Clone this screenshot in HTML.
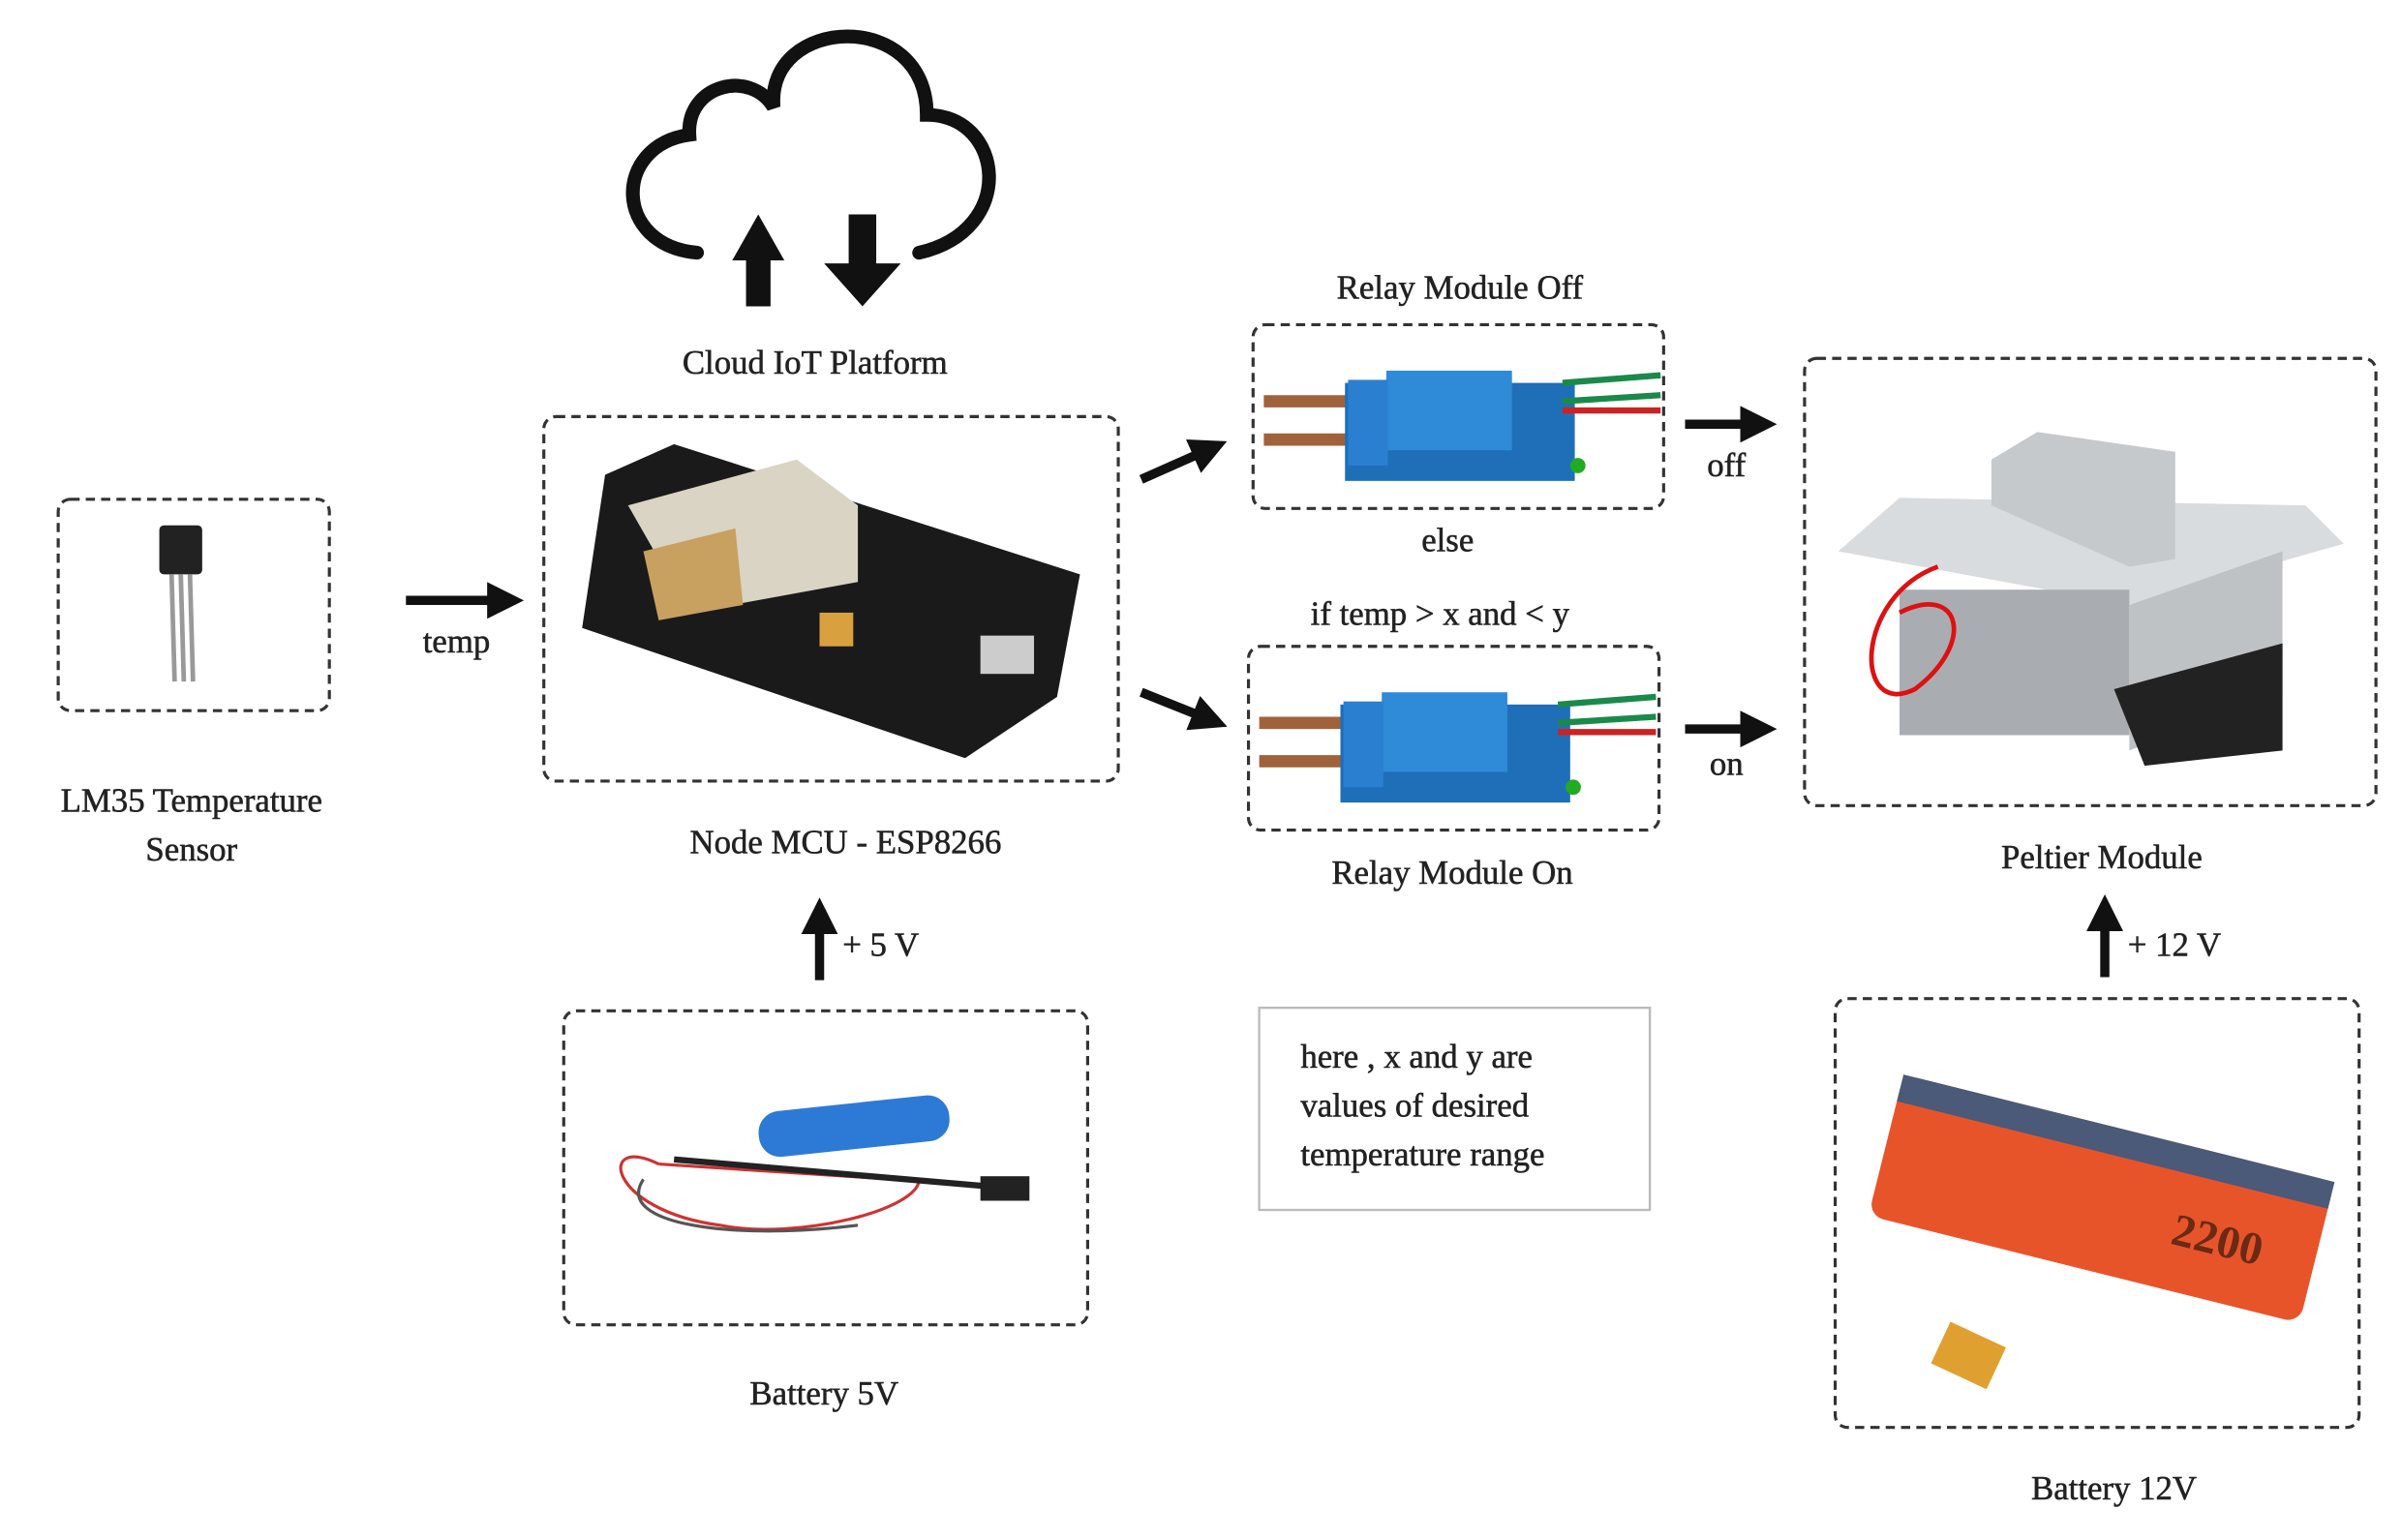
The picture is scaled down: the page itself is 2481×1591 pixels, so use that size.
<!DOCTYPE html>
<html><head><meta charset="utf-8"><style>
html,body{margin:0;padding:0;background:#fff;width:2481px;height:1591px;overflow:hidden}
svg{display:block}
text{font-family:"Liberation Serif",serif;fill:#222;stroke:#222;stroke-width:0.35}
</style></head><body>
<svg width="2481" height="1591" viewBox="0 0 1568 1005.5" xmlns="http://www.w3.org/2000/svg">
<defs>
<marker id="ah" markerWidth="4" markerHeight="4" refX="2" refY="2" orient="auto" markerUnits="strokeWidth"><path d="M0,0 L4,2 L0,4 z" fill="#111"/></marker>
</defs>
<!-- cloud -->
<path d="M455,165 C400,160 400,95 450,88 C448,55 490,45 505,70 C500,10 605,5 605,75 C655,75 665,150 600,165" fill="none" stroke="#111" stroke-width="9" stroke-linecap="round"/>
<polygon points="478,170 495,140 512,170 503,170 503,200 487,200 487,170" fill="#111"/>
<polygon points="554,140 572,140 572,172 588,172 563,200 538,172 554,172" fill="#111"/>
<text x="532" y="244" font-size="22" text-anchor="middle">Cloud IoT Platform</text>

<g fill="none" stroke="#333" stroke-width="2" stroke-dasharray="6,4">
<rect x="38" y="326" width="177" height="138" rx="8"/>
<rect x="355" y="272" width="375" height="238" rx="8"/>
<rect x="368" y="660" width="342" height="205" rx="8"/>
<rect x="818" y="212" width="268" height="120" rx="8"/>
<rect x="815" y="422" width="268" height="120" rx="8"/>
<rect x="1178" y="234" width="373" height="292" rx="8"/>
<rect x="1198" y="652" width="342" height="280" rx="8"/>
</g>
<rect x="822" y="658" width="255" height="132" fill="none" stroke="#bbb" stroke-width="1.5"/>

<!-- LM35 -->
<rect x="104" y="343" width="28" height="32" rx="3" fill="#222"/>
<g stroke="#999" stroke-width="3"><line x1="112" y1="375" x2="114" y2="445"/><line x1="118" y1="375" x2="120" y2="445"/><line x1="124" y1="375" x2="126" y2="445"/></g>
<text x="125" y="530" font-size="22" text-anchor="middle">LM35 Temperature</text>
<text x="125" y="562" font-size="22" text-anchor="middle">Sensor</text>

<!-- arrows -->
<g stroke="#111" stroke-width="6" fill="none" marker-end="url(#ah)">
<line x1="265" y1="392" x2="330" y2="392"/>
<line x1="745" y1="313" x2="790" y2="293"/>
<line x1="745" y1="452" x2="790" y2="470"/>
<line x1="1100" y1="277" x2="1148" y2="277"/>
<line x1="1100" y1="476" x2="1148" y2="476"/>
<line x1="535" y1="640" x2="535" y2="598"/>
<line x1="1374" y1="638" x2="1374" y2="596"/>
</g>
<text x="298" y="426" font-size="22" text-anchor="middle">temp</text>
<text x="550" y="624" font-size="22">+ 5 V</text>
<text x="1389" y="624" font-size="22">+ 12 V</text>
<text x="1127" y="311" font-size="22" text-anchor="middle">off</text>
<text x="1127" y="506" font-size="22" text-anchor="middle">on</text>

<!-- NodeMCU -->
<polygon points="395,310 440,290 705,375 690,455 630,495 380,410" fill="#1a1a1a"/>
<polygon points="410,330 520,300 560,330 560,380 450,400" fill="#d9d4c4"/>
<polygon points="420,360 480,345 485,395 430,405" fill="#c8a060"/>
<rect x="640" y="415" width="35" height="25" fill="#ccc"/>
<rect x="535" y="400" width="22" height="22" fill="#d9a040"/>
<text x="552" y="557" font-size="22" text-anchor="middle">Node MCU - ESP8266</text>

<!-- battery 5V -->
<g transform="rotate(-6 560 735)"><rect x="495" y="720" width="125" height="30" rx="14" fill="#2d7ad6"/></g>
<path d="M430,760 C390,740 395,790 470,800 C520,810 600,790 600,770 M430,760 L660,775" fill="none" stroke="#c33" stroke-width="2"/>
<path d="M420,770 C400,800 480,810 560,800" fill="none" stroke="#555" stroke-width="2"/>
<path d="M440,757 L650,775" stroke="#222" stroke-width="4"/>
<rect x="640" y="768" width="32" height="16" fill="#222"/>
<text x="538" y="917" font-size="22" text-anchor="middle">Battery 5V</text>

<!-- relays -->
<g id="r1">
<path d="M825,262 L890,262 M825,287 L890,287" stroke="#a0623a" stroke-width="8"/>
<rect x="878" y="250" width="150" height="64" fill="#1e6fb8"/>
<rect x="905" y="242" width="82" height="52" fill="#2f8ad8"/>
<rect x="880" y="248" width="26" height="56" fill="#2a7fd0"/>
<path d="M1020,250 L1084,245 M1020,262 L1084,258" stroke="#1a8a4a" stroke-width="4"/>
<path d="M1020,268 L1084,268" stroke="#c22" stroke-width="4"/>
<circle cx="1030" cy="304" r="5" fill="#2a2"/>
</g>
<use href="#r1" transform="translate(-3,210)"/>
<text x="953" y="195" font-size="22" text-anchor="middle">Relay Module Off</text>
<text x="945" y="360" font-size="22" text-anchor="middle">else</text>
<text x="940" y="408" font-size="22" text-anchor="middle">if temp &gt; x and &lt; y</text>
<text x="948" y="577" font-size="22" text-anchor="middle">Relay Module On</text>

<!-- Peltier -->
<polygon points="1200,360 1240,325 1505,330 1530,355 1390,395" fill="#d9dcdf"/>
<rect x="1240" y="385" width="150" height="95" fill="#a9adb1"/>
<polygon points="1390,395 1490,360 1490,450 1390,490" fill="#bfc2c5"/>
<polygon points="1380,450 1490,420 1490,490 1400,500" fill="#222"/>
<polygon points="1300,300 1330,282 1420,295 1420,365 1390,370 1300,330" fill="#c6c9cc"/>
<path d="M1265,370 C1210,390 1210,470 1250,450 C1290,420 1280,380 1240,400" fill="none" stroke="#d11" stroke-width="3"/>
<text x="1372" y="567" font-size="22" text-anchor="middle">Peltier Module</text>

<!-- Battery 12V -->
<g transform="rotate(14 1370 790)"><rect x="1225" y="735" width="290" height="95" rx="10" fill="#e8542a"/><rect x="1225" y="735" width="290" height="18" fill="#4a5a78"/><text x="1420" y="800" font-size="30" font-weight="bold" style="fill:#6a2a14;stroke:none">2200</text></g>
<rect x="1265" y="870" width="40" height="30" fill="#e0a030" transform="rotate(25 1285 885)"/>
<text x="1380" y="979" font-size="22" text-anchor="middle">Battery 12V</text>

<text x="849" y="697" font-size="22">here , x and y are</text>
<text x="849" y="729" font-size="22">values of desired</text>
<text x="849" y="761" font-size="22">temperature range</text>
</svg>
</body></html>
